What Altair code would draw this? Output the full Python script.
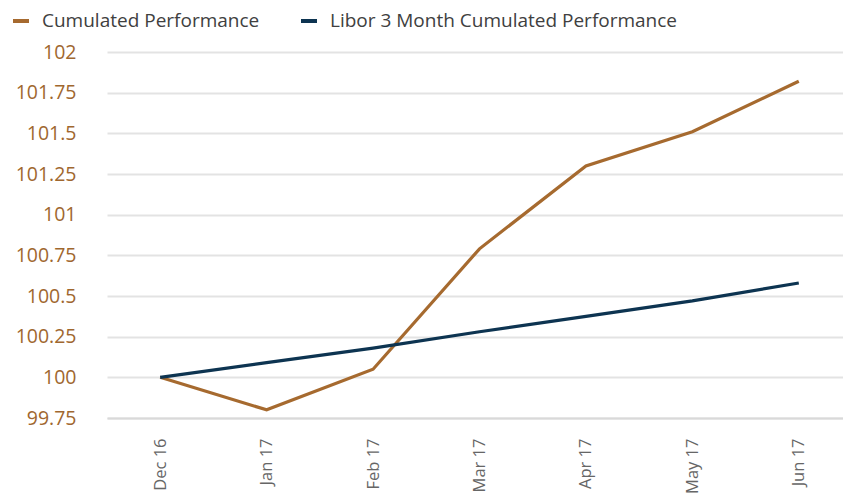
import altair as alt
import pandas as pd

months = ["Dec 16", "Jan 17", "Feb 17", "Mar 17", "Apr 17", "May 17", "Jun 17"]
cumulated = [100.0, 99.80, 100.05, 100.79, 101.30, 101.51, 101.82]
libor = [100.0, 100.09, 100.18, 100.28, 100.375, 100.47, 100.58]
series_names = ["Cumulated Performance", "Libor 3 Month Cumulated Performance"]
series_colors = ["#A66A2F", "#0D3451"]
y_ticks = [99.75, 100, 100.25, 100.5, 100.75, 101, 101.25, 101.5, 101.75, 102]

rows = []
for m, v in zip(months, cumulated):
    rows.append({"month": m, "value": v, "series": series_names[0]})
for m, v in zip(months, libor):
    rows.append({"month": m, "value": v, "series": series_names[1]})
df = pd.DataFrame(rows)

chart = alt.Chart(df).mark_line(strokeWidth=3.2).encode(
    x=alt.X("month:N", sort=months, title=None,
            scale=alt.Scale(type="point", padding=0.5),
            axis=alt.Axis(labelAngle=-90, labelFont="Open Sans", labelFontSize=16.5,
                          labelColor="#666666", labelPadding=20, ticks=False,
                          domainColor="#d9d9d9", domainWidth=2, grid=False,
                          labelAlign="right", labelBaseline="middle")),
    y=alt.Y("value:Q", title=None,
            scale=alt.Scale(domain=[99.75, 102], nice=False, zero=False),
            axis=alt.Axis(values=y_ticks, labelExpr="datum.value + ''",
                          labelFont="Open Sans", labelFontSize=19.5, labelColor="#A0672F",
                          labelPadding=31, ticks=False, domain=False,
                          gridColor="#e3e3e3", gridWidth=2)),
    color=alt.Color("series:N", title=None,
                    scale=alt.Scale(domain=series_names, range=series_colors),
                    legend=alt.Legend(orient="none", legendX=-96, legendY=-41,
                                      direction="horizontal", columns=2,
                                      symbolType="stroke", symbolSize=256,
                                      symbolStrokeWidth=4, labelFont="Open Sans",
                                      labelFontSize=19, labelColor="#404040",
                                      labelOffset=11, columnPadding=33,
                                      labelLimit=500)),
).properties(
    width=745, height=366,
    autosize=alt.AutoSizeParams(type="none"),
    padding={"left": 99, "top": 44, "right": -9, "bottom": 77},
).configure_view(stroke=None)

chart.save("out.html", embed_options={"renderer": "svg", "actions": False})
